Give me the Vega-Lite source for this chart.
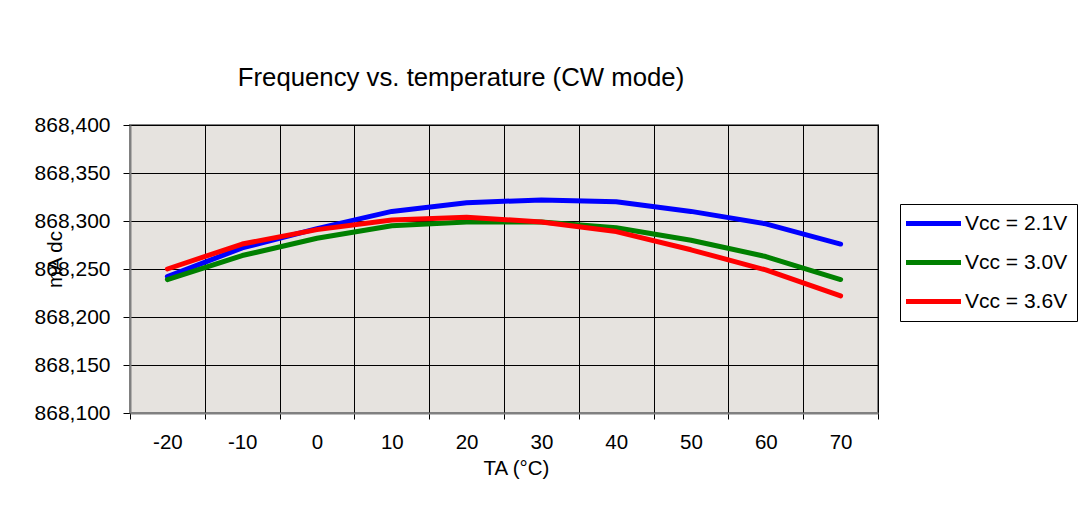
{
  "$schema": "https://vega.github.io/schema/vega-lite/v6.json",
  "autosize": {"type": "none"},
  "width": 748,
  "height": 288,
  "padding": {"left": 130, "top": 125, "right": 212, "bottom": 106},
  "background": "white",
  "config": {
    "font": "Liberation Sans",
    "view": {"fill": "#e6e3df", "stroke": "#808080", "strokeWidth": 2}
  },
  "title": {
    "text": "Frequency vs. temperature (CW mode)",
    "fontSize": 25.75,
    "fontWeight": "normal",
    "color": "black",
    "anchor": "middle",
    "dx": -43,
    "baseline": "alphabetic",
    "offset": 2
  },
  "data": {
    "values": [
      {"TA": -20, "series": "Vcc = 2.1V", "freq": 868242},
      {"TA": -10, "series": "Vcc = 2.1V", "freq": 868272},
      {"TA": 0, "series": "Vcc = 2.1V", "freq": 868292},
      {"TA": 10, "series": "Vcc = 2.1V", "freq": 868310},
      {"TA": 20, "series": "Vcc = 2.1V", "freq": 868319},
      {"TA": 30, "series": "Vcc = 2.1V", "freq": 868322},
      {"TA": 40, "series": "Vcc = 2.1V", "freq": 868320},
      {"TA": 50, "series": "Vcc = 2.1V", "freq": 868310},
      {"TA": 60, "series": "Vcc = 2.1V", "freq": 868297},
      {"TA": 70, "series": "Vcc = 2.1V", "freq": 868276},
      {"TA": -20, "series": "Vcc = 3.0V", "freq": 868239},
      {"TA": -10, "series": "Vcc = 3.0V", "freq": 868264},
      {"TA": 0, "series": "Vcc = 3.0V", "freq": 868282},
      {"TA": 10, "series": "Vcc = 3.0V", "freq": 868295},
      {"TA": 20, "series": "Vcc = 3.0V", "freq": 868299},
      {"TA": 30, "series": "Vcc = 3.0V", "freq": 868299},
      {"TA": 40, "series": "Vcc = 3.0V", "freq": 868293},
      {"TA": 50, "series": "Vcc = 3.0V", "freq": 868280},
      {"TA": 60, "series": "Vcc = 3.0V", "freq": 868263},
      {"TA": 70, "series": "Vcc = 3.0V", "freq": 868239},
      {"TA": -20, "series": "Vcc = 3.6V", "freq": 868250},
      {"TA": -10, "series": "Vcc = 3.6V", "freq": 868276},
      {"TA": 0, "series": "Vcc = 3.6V", "freq": 868291},
      {"TA": 10, "series": "Vcc = 3.6V", "freq": 868301},
      {"TA": 20, "series": "Vcc = 3.6V", "freq": 868304},
      {"TA": 30, "series": "Vcc = 3.6V", "freq": 868299},
      {"TA": 40, "series": "Vcc = 3.6V", "freq": 868289},
      {"TA": 50, "series": "Vcc = 3.6V", "freq": 868270},
      {"TA": 60, "series": "Vcc = 3.6V", "freq": 868249},
      {"TA": 70, "series": "Vcc = 3.6V", "freq": 868222}
    ]
  },
  "mark": {"type": "line", "strokeWidth": 5, "strokeCap": "round", "strokeJoin": "round"},
  "encoding": {
    "x": {
      "field": "TA",
      "type": "ordinal",
      "sort": "ascending",
      "bandPosition": 0.5,
      "scale": {"type": "band", "paddingInner": 0, "paddingOuter": 0},
      "axis": {
        "title": "TA (°C)",
        "titleFontSize": 20.5,
        "titleFontWeight": "normal",
        "titleColor": "black",
        "titleX": 386,
        "titleY": 61,
        "titleAlign": "center",
        "titleBaseline": "alphabetic",
        "labelAngle": 0,
        "labelFontSize": 20.5,
        "labelColor": "black",
        "labelBaseline": "alphabetic",
        "labelPadding": 29,
        "tickBand": "extent",
        "tickSize": 6,
        "tickColor": "black",
        "tickWidth": 1,
        "grid": true,
        "gridColor": "black",
        "gridWidth": 1,
        "domainColor": "#808080",
        "domainWidth": 2
      }
    },
    "y": {
      "field": "freq",
      "type": "quantitative",
      "scale": {"domain": [868100, 868400], "nice": false, "zero": false},
      "axis": {
        "title": "mA dc",
        "titleFontSize": 20.5,
        "titleFontWeight": "normal",
        "titleColor": "black",
        "titleX": -75,
        "titleY": 134,
        "titleAngle": -90,
        "titleAlign": "center",
        "titleBaseline": "middle",
        "values": [868100, 868150, 868200, 868250, 868300, 868350, 868400],
        "format": ",.0f",
        "labelFontSize": 21,
        "labelColor": "black",
        "labelPadding": 13,
        "tickSize": 7,
        "tickColor": "black",
        "grid": true,
        "gridColor": "black",
        "gridWidth": 1,
        "domainColor": "#808080",
        "domainWidth": 2
      }
    },
    "color": {
      "field": "series",
      "type": "nominal",
      "scale": {
        "domain": ["Vcc = 2.1V", "Vcc = 3.0V", "Vcc = 3.6V"],
        "range": ["#0000ff", "#008000", "#ff0000"]
      },
      "legend": {
        "title": null,
        "orient": "none",
        "legendX": 770,
        "legendY": 79,
        "padding": 9,
        "strokeColor": "black",
        "fillColor": "white",
        "symbolType": "M-2.7,0H8.3",
        "symbolSize": 100,
        "symbolStrokeWidth": 5,
        "symbolOpacity": 1,
        "labelOffset": 35,
        "labelFontSize": 21,
        "labelColor": "black",
        "labelLimit": 300,
        "rowPadding": 17
      }
    }
  }
}
